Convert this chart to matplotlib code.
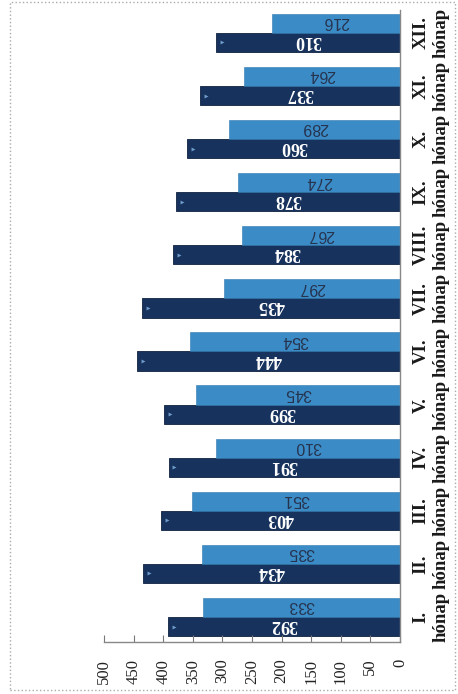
import matplotlib
matplotlib.use("Agg")
import matplotlib.pyplot as plt
from matplotlib.patches import Rectangle
import numpy as np

months = ["I.", "II.", "III.", "IV.", "V.", "VI.", "VII.", "VIII.", "IX.", "X.", "XI.", "XII."]
month_word = "hónap"
dark_values = [392, 434, 403, 391, 399, 444, 435, 384, 378, 360, 337, 310]
light_values = [333, 335, 351, 310, 345, 354, 297, 267, 274, 289, 264, 216]
xticks = [0, 50, 100, 150, 200, 250, 300, 350, 400, 450, 500]

DARK = "#17325c"
LIGHT = "#3b8cc6"

fig = plt.figure(figsize=(4.58, 6.94), dpi=100)
ax = fig.add_axes([104/458, 52/694, 296/458, 632/694])

y = np.arange(len(months))
h = 0.36
ax.barh(y - h/2, dark_values, height=h, color=DARK, edgecolor="#0f2240", linewidth=0.6)
ax.barh(y + h/2, light_values, height=h, color=LIGHT, edgecolor="#2f79b0", linewidth=0.4)

# small highlight at the end of dark bars
ax.scatter(np.array(dark_values) - 10, y - h/2, marker=">", s=8, color="#6f9ccc", zorder=3, linewidths=0)

for yi, v in zip(y, dark_values):
    ax.text(v/2, yi - h/2, str(v), rotation=180, rotation_mode="anchor", ha="center",
            va="center_baseline", color="white", fontsize=13, fontweight="bold",
            family="Liberation Serif")
for yi, v in zip(y, light_values):
    ax.text(v/2, yi + h/2, str(v), rotation=180, rotation_mode="anchor", ha="center",
            va="center_baseline", color="#26334f", fontsize=11.5, family="Liberation Sans")

ax.set_xlim(500, 0)
ax.set_ylim(-0.47, 11.43)

ax.set_xticks(xticks)
ax.set_xticklabels([str(t) for t in xticks], rotation=90, fontsize=12,
                   family="Liberation Serif", color="#222222")
ax.tick_params(axis="x", direction="in", length=5, width=0.8, color="#777777", pad=12)

ax.yaxis.tick_right()
ax.set_yticks(y)
ax.set_yticklabels([f"{m}\n{month_word}" for m in months], rotation=90, fontsize=13.5,
                   fontweight="bold", family="Liberation Serif", color="#1a1a1a",
                   multialignment="center", va="center", linespacing=1.2)
ax.tick_params(axis="y", length=0, pad=9)

for s in ["top", "left"]:
    ax.spines[s].set_visible(False)
ax.spines["bottom"].set_color("#888888")
ax.spines["right"].set_color("#888888")
ax.spines["bottom"].set_linewidth(1.0)
ax.spines["right"].set_linewidth(1.0)

fig.patches.append(Rectangle((10/458, 4/694), 445/458, 688/694, transform=fig.transFigure,
                             fill=False, edgecolor="#aaaaaa", linestyle=":", linewidth=1.0))

fig.savefig("out.png", dpi=100)
